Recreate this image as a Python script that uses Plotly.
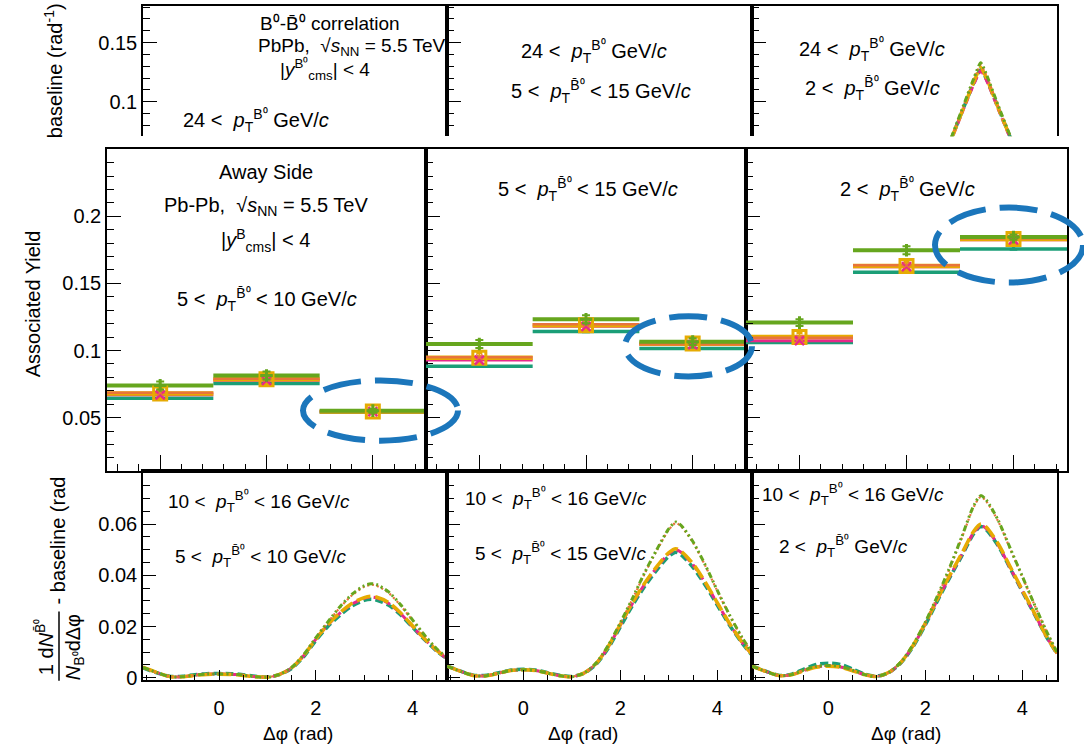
import plotly.graph_objects as go

W, H = 1084, 753
FONT = "Liberation Sans"

# ---------------- data ----------------
# Away-side associated yield, three bins per panel (panels: 5-10, 5-15, >2 GeV/c)
yield_green = [[0.0740, 0.0814, 0.0552], [0.1049, 0.1233, 0.1066], [0.1208, 0.1747, 0.1845]]
yield_orange = [[0.0685, 0.0790, 0.0548], [0.0950, 0.1195, 0.1050], [0.1095, 0.1635, 0.1835]]
yield_gold = [[0.0680, 0.0785, 0.0546], [0.0946, 0.1189, 0.1053], [0.1100, 0.1630, 0.1830]]
yield_pink = [[0.0670, 0.0778, 0.0544], [0.0929, 0.1180, 0.1044], [0.1073, 0.1625, 0.1825]]
yield_teal = [[0.0645, 0.0755, 0.0540], [0.0882, 0.1142, 0.1015], [0.1060, 0.1583, 0.1757]]
yield_err_green = [[0.0030, 0.0030, 0.0015], [0.0030, 0.0030, 0.0025], [0.0025, 0.0030, 0.0020]]
yield_err_gold = [[0.0040, 0.0035, 0.0015], [0.0035, 0.0035, 0.0025], [0.0030, 0.0030, 0.0030]]
bin_centres = [0.5, 1.5, 2.5]

# Delta-phi grid of the correlation curves
phi = [-1.571, -1.25, -1.0, -0.75, -0.5, -0.25, 0.0, 0.25, 0.5, 0.75, 1.0, 1.25, 1.5,
       1.75, 2.0, 2.25, 2.5, 2.75, 3.0, 3.142, 3.25, 3.5, 3.75, 4.0, 4.25, 4.5, 4.712]

# bottom row: 10 < pT(B0) < 16 GeV/c
corr_low = {
    "teal": [0.0038, 0.0017, 0.0005, 0.0006, 0.0012, 0.0016, 0.0017, 0.0016, 0.0012, 0.0006, 0.0003, 0.0012, 0.0036, 0.0082, 0.0145, 0.0200, 0.0244, 0.0280, 0.0302, 0.0306, 0.0303, 0.0284, 0.0246, 0.0197, 0.0148, 0.0104, 0.0074],
    "pink": [0.0040, 0.0018, 0.0004, 0.0004, 0.0010, 0.0014, 0.0015, 0.0014, 0.0010, 0.0004, 0.0002, 0.0012, 0.0038, 0.0086, 0.0150, 0.0206, 0.0252, 0.0288, 0.0310, 0.0315, 0.0312, 0.0291, 0.0251, 0.0200, 0.0150, 0.0105, 0.0075],
    "gold": [0.0041, 0.0018, 0.0004, 0.0004, 0.0009, 0.0013, 0.0014, 0.0013, 0.0009, 0.0004, 0.0002, 0.0013, 0.0039, 0.0087, 0.0151, 0.0208, 0.0254, 0.0291, 0.0313, 0.0318, 0.0315, 0.0294, 0.0254, 0.0203, 0.0152, 0.0107, 0.0076],
    "orange": [0.0040, 0.0018, 0.0004, 0.0004, 0.0010, 0.0014, 0.0015, 0.0014, 0.0010, 0.0004, 0.0002, 0.0013, 0.0040, 0.0090, 0.0155, 0.0216, 0.0274, 0.0322, 0.0355, 0.0363, 0.0360, 0.0332, 0.0283, 0.0224, 0.0165, 0.0112, 0.0078],
    "green": [0.0040, 0.0018, 0.0004, 0.0004, 0.0010, 0.0014, 0.0015, 0.0014, 0.0010, 0.0004, 0.0002, 0.0013, 0.0040, 0.0090, 0.0156, 0.0218, 0.0277, 0.0326, 0.0359, 0.0367, 0.0364, 0.0336, 0.0286, 0.0226, 0.0166, 0.0113, 0.0078],
}
corr_mid = {
    "teal": [0.0046, 0.0023, 0.0009, 0.0010, 0.0020, 0.0030, 0.0033, 0.0030, 0.0020, 0.0010, 0.0005, 0.0017, 0.0052, 0.0115, 0.0198, 0.0282, 0.0356, 0.0420, 0.0474, 0.0490, 0.0480, 0.0430, 0.0361, 0.0283, 0.0205, 0.0137, 0.0088],
    "pink": [0.0045, 0.0022, 0.0008, 0.0008, 0.0018, 0.0028, 0.0031, 0.0028, 0.0018, 0.0008, 0.0004, 0.0018, 0.0055, 0.0120, 0.0205, 0.0290, 0.0365, 0.0430, 0.0485, 0.0500, 0.0490, 0.0440, 0.0370, 0.0290, 0.0210, 0.0140, 0.0090],
    "gold": [0.0045, 0.0022, 0.0008, 0.0008, 0.0018, 0.0028, 0.0031, 0.0028, 0.0018, 0.0008, 0.0004, 0.0018, 0.0056, 0.0122, 0.0208, 0.0293, 0.0369, 0.0434, 0.0489, 0.0504, 0.0494, 0.0444, 0.0373, 0.0292, 0.0212, 0.0141, 0.0091],
    "orange": [0.0045, 0.0022, 0.0008, 0.0008, 0.0018, 0.0028, 0.0031, 0.0028, 0.0018, 0.0008, 0.0004, 0.0018, 0.0057, 0.0125, 0.0213, 0.0307, 0.0406, 0.0496, 0.0578, 0.0604, 0.0591, 0.0527, 0.0437, 0.0338, 0.0243, 0.0159, 0.0097],
    "green": [0.0045, 0.0022, 0.0008, 0.0008, 0.0018, 0.0028, 0.0031, 0.0028, 0.0018, 0.0008, 0.0004, 0.0018, 0.0057, 0.0126, 0.0215, 0.0310, 0.0410, 0.0500, 0.0582, 0.0608, 0.0595, 0.0530, 0.0440, 0.0340, 0.0245, 0.0160, 0.0098],
}
corr_high = {
    "teal": [0.0046, 0.0023, 0.0009, 0.0014, 0.0034, 0.0052, 0.0057, 0.0052, 0.0034, 0.0014, 0.0006, 0.0020, 0.0058, 0.0122, 0.0206, 0.0300, 0.0390, 0.0475, 0.0563, 0.0590, 0.0579, 0.0515, 0.0426, 0.0336, 0.0247, 0.0158, 0.0094],
    "pink": [0.0045, 0.0022, 0.0008, 0.0012, 0.0028, 0.0042, 0.0046, 0.0042, 0.0028, 0.0012, 0.0005, 0.0020, 0.0060, 0.0125, 0.0210, 0.0305, 0.0395, 0.0480, 0.0568, 0.0594, 0.0583, 0.0518, 0.0428, 0.0338, 0.0249, 0.0159, 0.0095],
    "gold": [0.0045, 0.0022, 0.0008, 0.0012, 0.0027, 0.0041, 0.0045, 0.0041, 0.0027, 0.0012, 0.0005, 0.0021, 0.0061, 0.0127, 0.0213, 0.0308, 0.0399, 0.0485, 0.0573, 0.0600, 0.0589, 0.0523, 0.0433, 0.0342, 0.0252, 0.0161, 0.0096],
    "orange": [0.0045, 0.0022, 0.0008, 0.0012, 0.0029, 0.0043, 0.0047, 0.0043, 0.0029, 0.0012, 0.0005, 0.0021, 0.0062, 0.0129, 0.0215, 0.0317, 0.0426, 0.0545, 0.0668, 0.0706, 0.0690, 0.0611, 0.0502, 0.0393, 0.0284, 0.0179, 0.0100],
    "green": [0.0045, 0.0022, 0.0008, 0.0012, 0.0030, 0.0044, 0.0048, 0.0044, 0.0030, 0.0012, 0.0005, 0.0021, 0.0062, 0.0130, 0.0217, 0.0320, 0.0430, 0.0550, 0.0673, 0.0711, 0.0695, 0.0615, 0.0505, 0.0395, 0.0285, 0.0180, 0.0100],
}
# top row, pT(B0) > 24 GeV/c, 2 GeV/c partner: near-peak points
phi_top = [2.25, 2.5, 2.75, 3.0, 3.142, 3.25, 3.5, 3.75, 4.0]
corr_top = {
    "teal": [0.039, 0.065, 0.091, 0.116, 0.127, 0.120, 0.095, 0.070, 0.045],
    "pink": [0.038, 0.064, 0.090, 0.115, 0.126, 0.119, 0.094, 0.069, 0.044],
    "gold": [0.039, 0.065, 0.091, 0.117, 0.129, 0.121, 0.095, 0.070, 0.045],
    "orange": [0.040, 0.066, 0.092, 0.119, 0.131, 0.123, 0.096, 0.071, 0.046],
    "green": [0.040, 0.066, 0.093, 0.120, 0.133, 0.124, 0.097, 0.071, 0.046],
}

COL = {"green": "#66a61e", "orange": "#e8743b", "gold": "#e6ab02",
       "pink": "#e7298a", "teal": "#1b9e77"}
DASH = {"teal": "8px,4px", "pink": "7px,4px", "gold": "14px,5px",
        "orange": "2px,3px", "green": "6px,3px,2px,3px,2px,3px"}
LW = {"teal": 3.5, "pink": 3, "gold": 3.5, "orange": 2.2, "green": 3}
ORDER = ["teal", "pink", "gold", "orange", "green"]


def px(x):
    return x / W


def py(y):
    return 1 - y / H


fig = go.Figure()

# ---------------- axes ----------------
cols = [(143, 447), (447, 752), (752, 1057)]
cols_mid = [(107, 426), (426, 746), (746, 1067)]
TICKFONT = dict(family=FONT, size=20, color="black")
PHI_RANGE = [-1.5708, 4.7124]
layout_axes = {}

for i in range(3):
    # top row: upper strip of the > 24 GeV/c row
    n = i + 1
    xa = "xaxis" if n == 1 else f"xaxis{n}"
    ya = "yaxis" if n == 1 else f"yaxis{n}"
    layout_axes[xa] = dict(domain=[px(cols[i][0]), px(cols[i][1])], range=PHI_RANGE,
                           anchor="y" if n == 1 else f"y{n}", side="top",
                           showline=True, linecolor="black", linewidth=1.5,
                           showticklabels=False, ticks="", showgrid=False, zeroline=False)
    layout_axes[ya] = dict(domain=[py(138), py(6)], range=[0.0708, 0.181],
                           anchor="x" if n == 1 else f"x{n}",
                           showline=True, mirror=True, linecolor="black", linewidth=1.5,
                           tickvals=[0.1, 0.15], ticktext=["0.1", "0.15"],
                           ticks="inside", ticklen=14, tickwidth=1.3, tickcolor="black",
                           minor=dict(ticks="inside", ticklen=7, tickwidth=1.2, tickcolor="black",
                                      tick0=0, dtick=0.01),
                           showticklabels=(i == 0), tickfont=TICKFONT,
                           showgrid=False, zeroline=False)
    # middle: away-side associated yield
    n = i + 4
    layout_axes[f"xaxis{n}"] = dict(domain=[px(cols_mid[i][0]), px(cols_mid[i][1])], range=[0, 3],
                                    anchor=f"y{n}", showline=True, mirror=True,
                                    linecolor="black", linewidth=1.5,
                                    tickvals=bin_centres, showticklabels=False,
                                    ticks="inside", ticklen=17, tickwidth=1.3, tickcolor="black",
                                    minor=dict(ticks="inside", ticklen=8, tickwidth=1.2,
                                               tickcolor="black", tick0=0.1, dtick=0.2),
                                    showgrid=False, zeroline=False)
    layout_axes[f"yaxis{n}"] = dict(domain=[py(477), py(151)], range=[0.01, 0.25],
                                    anchor=f"x{n}", showline=True, mirror=True,
                                    linecolor="black", linewidth=1.5,
                                    tickvals=[0.05, 0.1, 0.15, 0.2],
                                    ticktext=["0.05", "0.1", "0.15", "0.2"],
                                    ticks="inside", ticklen=14, tickwidth=1.3, tickcolor="black",
                                    minor=dict(ticks="inside", ticklen=7, tickwidth=1.2,
                                               tickcolor="black", tick0=0, dtick=0.01),
                                    showticklabels=(i == 0), tickfont=TICKFONT,
                                    showgrid=False, zeroline=False)
    # bottom row: 10 < pT(B0) < 16 GeV/c correlations
    n = i + 7
    layout_axes[f"xaxis{n}"] = dict(domain=[px(cols[i][0]), px(cols[i][1])], range=PHI_RANGE,
                                    anchor=f"y{n}", showline=True, mirror=True,
                                    linecolor="black", linewidth=1.5,
                                    tickvals=[0, 2, 4], ticktext=["0", "2", "4"],
                                    ticks="inside", ticklen=10, tickwidth=1.3, tickcolor="black",
                                    minor=dict(ticks="inside", ticklen=5, tickwidth=1.2,
                                               tickcolor="black", tick0=0, dtick=0.5),
                                    ticklabelstandoff=9,
                                    tickfont=TICKFONT, showgrid=False, zeroline=False)
    layout_axes[f"yaxis{n}"] = dict(domain=[py(688), py(477)], range=[-0.0008, 0.0806],
                                    anchor=f"x{n}", showline=True, mirror=True,
                                    linecolor="black", linewidth=1.5,
                                    tickvals=[0, 0.02, 0.04, 0.06],
                                    ticktext=["0", "0.02", "0.04", "0.06"],
                                    ticks="inside", ticklen=13, tickwidth=1.3, tickcolor="black",
                                    minor=dict(ticks="inside", ticklen=7, tickwidth=1.2,
                                               tickcolor="black", tick0=0, dtick=0.005),
                                    showticklabels=(i == 0), tickfont=TICKFONT,
                                    showgrid=False, zeroline=False)

# ---------------- traces ----------------
# empty traces so the two top-row frames without visible curves are still drawn
for n in ("", "2"):
    fig.add_trace(go.Scatter(x=[None], y=[None], mode="lines", xaxis=f"x{n}", yaxis=f"y{n}",
                             showlegend=False, hoverinfo="skip"))

# top row (only the right-hand panel reaches into the visible strip)
for key in ORDER:
    fig.add_trace(go.Scatter(x=phi_top, y=corr_top[key], mode="lines", xaxis="x3", yaxis="y3",
                             line=dict(color=COL[key], width=LW[key], dash=DASH[key],
                                       shape="spline", smoothing=0.6),
                             showlegend=False, hoverinfo="skip"))

# bottom row correlation curves
for i, data in enumerate([corr_low, corr_mid, corr_high]):
    for key in ORDER:
        fig.add_trace(go.Scatter(x=phi, y=data[key], mode="lines",
                                 xaxis=f"x{i + 7}", yaxis=f"y{i + 7}",
                                 line=dict(color=COL[key], width=LW[key], dash=DASH[key],
                                           shape="spline", smoothing=0.8),
                                 showlegend=False, hoverinfo="skip"))


def bin_segments(values):
    xs, ys = [], []
    for j, v in enumerate(values):
        xs += [j, j + 1, None]
        ys += [v, v, None]
    return xs, ys


yields = {"green": yield_green, "orange": yield_orange, "gold": yield_gold,
          "pink": yield_pink, "teal": yield_teal}
BAR_W = {"teal": 3.5, "pink": 3, "gold": 4.5, "orange": 2.5, "green": 4}

for i in range(3):
    xa, ya = f"x{i + 4}", f"y{i + 4}"
    for key in ORDER:
        sx, sy = bin_segments(yields[key][i])
        fig.add_trace(go.Scatter(x=sx, y=sy, mode="lines", xaxis=xa, yaxis=ya,
                                 line=dict(color=COL[key], width=BAR_W[key]),
                                 showlegend=False, hoverinfo="skip"))
    # bin-centre markers with uncertainties
    fig.add_trace(go.Scatter(x=bin_centres, y=yield_teal[i], mode="markers", xaxis=xa, yaxis=ya,
                             marker=dict(symbol="triangle-up", size=7, color=COL["teal"]),
                             showlegend=False, hoverinfo="skip"))
    fig.add_trace(go.Scatter(x=bin_centres, y=yield_gold[i], mode="markers", xaxis=xa, yaxis=ya,
                             marker=dict(symbol="square-open", size=13, color=COL["gold"],
                                         line=dict(width=3, color=COL["gold"])),
                             error_y=dict(type="data", array=yield_err_gold[i], color=COL["gold"],
                                          thickness=2, width=3),
                             showlegend=False, hoverinfo="skip"))
    fig.add_trace(go.Scatter(x=bin_centres, y=yield_pink[i], mode="markers", xaxis=xa, yaxis=ya,
                             marker=dict(symbol="x-thin", size=9, color=COL["pink"],
                                         line=dict(width=2.5, color=COL["pink"])),
                             showlegend=False, hoverinfo="skip"))
    fig.add_trace(go.Scatter(x=bin_centres, y=yield_orange[i], mode="markers", xaxis=xa, yaxis=ya,
                             marker=dict(symbol="x-thin", size=6, color=COL["orange"],
                                         line=dict(width=1.5, color=COL["orange"])),
                             showlegend=False, hoverinfo="skip"))
    fig.add_trace(go.Scatter(x=bin_centres, y=yield_green[i], mode="markers", xaxis=xa, yaxis=ya,
                             marker=dict(symbol="cross-thin", size=9, color=COL["green"],
                                         line=dict(width=3, color=COL["green"])),
                             error_y=dict(type="data", array=yield_err_green[i], color=COL["green"],
                                          thickness=2, width=4),
                             showlegend=False, hoverinfo="skip"))

# ---------------- text ----------------
PT_B = "<i>p</i><sub>T</sub><sup>B⁰</sup>"
PT_BBAR = "<i>p</i><sub>T</sub><sup>B\u0304⁰</sup>"
SQRT_S = "\u221a<i>s</i><sub>NN</sub>"
SP = "\u00a0"

texts = [
    # top row
    ("B⁰-B\u0304⁰ correlation", 330, 24, 19),
    (f"PbPb,{SP} {SQRT_S} = 5.5 TeV", 352, 48, 19),
    ("|<i>y</i><sup>B⁰</sup><sub>cms</sub>| < 4", 325, 70, 19),
    (f"24 <{SP} {PT_B} GeV/<i>c</i>", 256, 122, 20),
    (f"24 <{SP} {PT_B} GeV/<i>c</i>", 594, 52, 20),
    (f"5 <{SP} {PT_BBAR} < 15 GeV/<i>c</i>", 601, 93, 20),
    (f"24 <{SP} {PT_B} GeV/<i>c</i>", 872, 50, 20),
    (f"2 <{SP} {PT_BBAR} GeV/<i>c</i>", 872, 90, 20),
    # middle (associated yield)
    ("Away Side", 266, 174, 20),
    (f"Pb-Pb,{SP} {SQRT_S} = 5.5 TeV", 266, 209, 20),
    ("|<i>y</i><sup>B</sup><sub>cms</sub>| < 4", 265, 243, 20),
    (f"5 <{SP} {PT_BBAR} < 10 GeV/<i>c</i>", 267, 303, 20),
    (f"5 <{SP} {PT_BBAR} < 15 GeV/<i>c</i>", 588, 192, 20),
    (f"2 <{SP} {PT_BBAR} GeV/<i>c</i>", 907, 192, 20),
    # bottom row
    (f"10 <{SP} {PT_B} < 16 GeV/<i>c</i>", 259, 508, 19),
    (f"5 <{SP} {PT_BBAR} < 10 GeV/<i>c</i>", 260, 563, 19),
    (f"10 <{SP} {PT_B} < 16 GeV/<i>c</i>", 556, 505, 19),
    (f"5 <{SP} {PT_BBAR} < 15 GeV/<i>c</i>", 560, 560, 19),
    (f"10 <{SP} {PT_B} < 16 GeV/<i>c</i>", 853, 500, 19),
    (f"2 <{SP} {PT_BBAR} GeV/<i>c</i>", 843, 553, 19),
    # axis titles
    ("\u0394\u03c6 (rad)", 298, 742, 19),
    ("\u0394\u03c6 (rad)", 583, 742, 19),
    ("\u0394\u03c6 (rad)", 906, 742, 19),
]
annotations = []
for t, x, y, s in texts:
    annotations.append(dict(text=t, x=px(x), y=py(y), xref="paper", yref="paper",
                            xanchor="center", yanchor="middle", showarrow=False,
                            font=dict(family=FONT, size=s, color="black")))

rotated = [
    ("Associated Yield", 33, 308, 20),
    ("baseline (rad<sup>-1</sup>)", 53, 72, 20),
    ("- baseline (rad", 58, 547, 20),
    ("1 d<i>N</i><sup>B\u0304⁰</sup>", 44, 655, 20),
    ("<i>N</i><sub>B⁰</sub>d\u0394\u03c6", 74, 655, 20),
]
for t, x, y, s in rotated:
    annotations.append(dict(text=t, x=px(x), y=py(y), xref="paper", yref="paper",
                            xanchor="center", yanchor="middle", showarrow=False, textangle=-90,
                            font=dict(family=FONT, size=s, color="black")))

shapes = [
    # fraction bar of the bottom-row axis title
    dict(type="line", xref="paper", yref="paper", x0=px(59), x1=px(59), y0=py(689), y1=py(619),
         line=dict(color="black", width=1.5)),
]
# dashed ellipses highlighting the last bin of each panel
for x0, x1, y0, y1 in [(303, 458, 385, 446), (625, 752, 320, 381), (935, 1083, 210, 286)]:
    shapes.append(dict(type="circle", xref="paper", yref="paper",
                       x0=px(x0), x1=px(x1), y0=py(y1), y1=py(y0), layer="above",
                       line=dict(color="#1b76bb", width=6, dash="38px,14px")))

fig.update_layout(width=W, height=H, autosize=False,
                  margin=dict(l=0, r=0, t=0, b=0),
                  paper_bgcolor="white", plot_bgcolor="white",
                  font=dict(family=FONT, color="black"),
                  annotations=annotations, shapes=shapes, showlegend=False,
                  **layout_axes)

fig.write_html("out.html")
